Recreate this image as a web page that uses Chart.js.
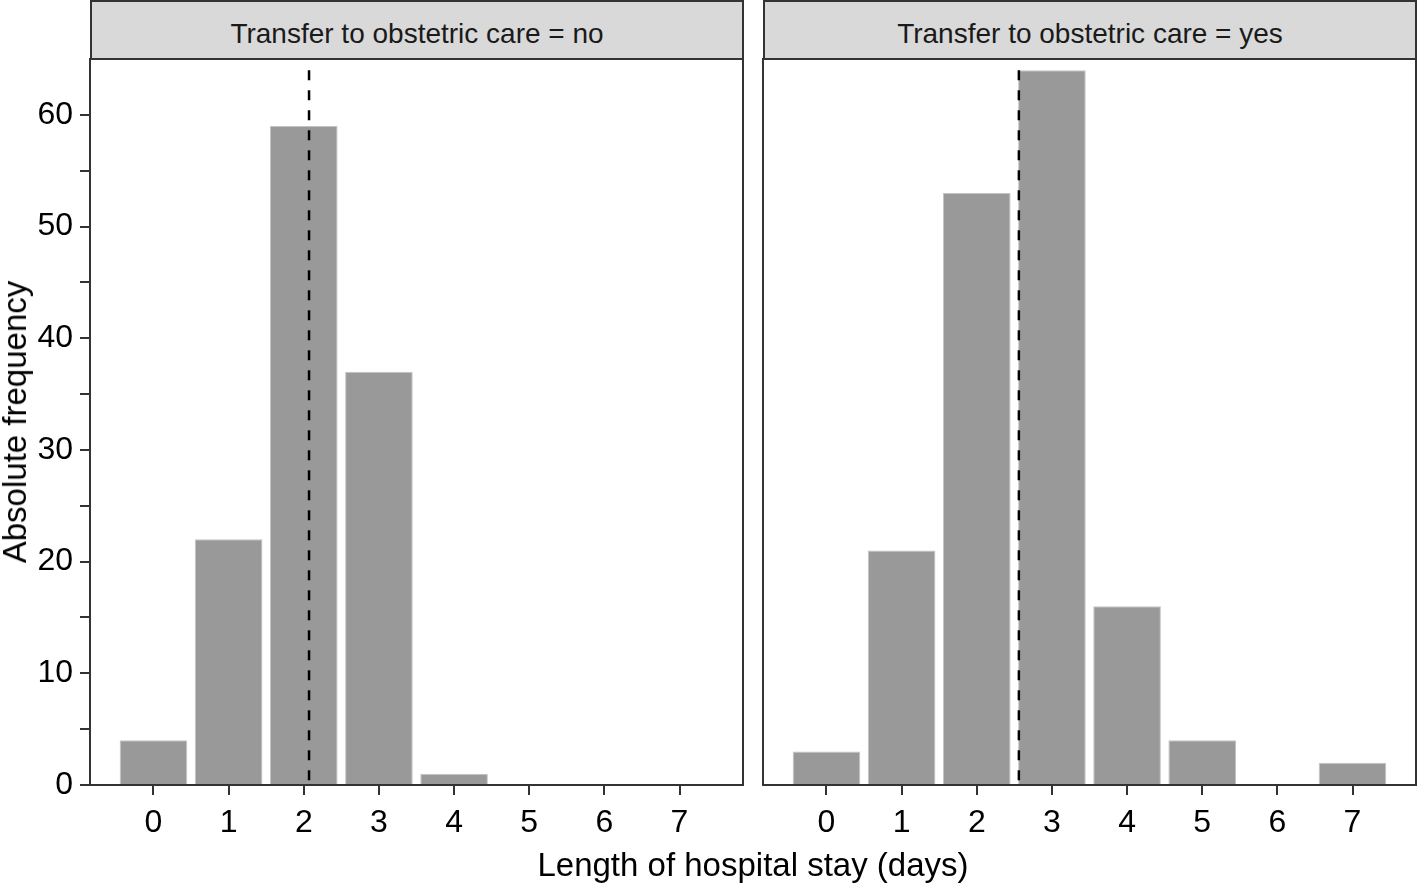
<!DOCTYPE html>
<html>
<head>
<meta charset="utf-8">
<script src="https://cdn.jsdelivr.net/npm/chart.js@4"></script>
<style>
  body { margin: 0; background: #fff; font-family: "Liberation Sans", Arial, sans-serif; }
  #wrap { position: relative; width: 1423px; height: 884px; overflow: hidden; }
  canvas { position: absolute; top: 0; }
  .strip {
    position: absolute; top: 0; height: 60px; box-sizing: border-box;
    background: #d9d9d9; border: 2px solid #333;
    text-align: center; line-height: 64px; font-size: 28px; color: #1a1a1a;
  }
  .xtitle { position: absolute; left: 0; width: 1506px; top: 846px; text-align: center; font-size: 33px; color: #000; }
  .ytitle {
    position: absolute; left: 15px; top: 422px; font-size: 33px; color: #000;
    transform: translate(-50%, -50%) rotate(-90deg); white-space: nowrap;
  }
</style>
</head>
<body>
<div id="wrap">
  <canvas id="panelNo" width="750" height="884" style="left:0"></canvas>
  <canvas id="panelYes" width="670" height="884" style="left:753px"></canvas>
  <div class="strip" style="left:90px;width:654px">Transfer to obstetric care = no</div>
  <div class="strip" style="left:763px;width:654px">Transfer to obstetric care = yes</div>
  <div class="xtitle">Length of hospital stay (days)</div>
  <div class="ytitle">Absolute frequency</div>
</div>
<script>
// length of stay in days
const days = [0, 1, 2, 3, 4, 5, 6, 7];
const countsNo = [4, 22, 59, 37, 1, 0, 0, 0];
const countsYes = [3, 21, 53, 64, 16, 4, 0, 2];

// mean length of stay (dashed line) per panel
const meanNo = 2.07;
const meanYes = 2.56;
const meanLineTop = 64;

const yTicks = [0, 5, 10, 15, 20, 25, 30, 35, 40, 45, 50, 55, 60];
const xTicks = [0, 1, 2, 3, 4, 5, 6, 7];

const frame = {
  id: 'frame',
  afterDraw(chart) {
    const a = chart.chartArea;
    const c = chart.ctx;
    c.save();
    c.strokeStyle = '#333';
    c.lineWidth = 2;
    c.strokeRect(a.left, a.top, a.right - a.left, a.bottom - a.top);
    c.restore();
  }
};

function makePanel(id, counts, mean, showY, pad) {
  const ctx = document.getElementById(id).getContext('2d');
  return new Chart(ctx, {
    type: 'bar',
    data: {
      datasets: [
        {
          type: 'line',
          data: [{ x: mean, y: meanLineTop }, { x: mean, y: 0 }],
          borderColor: '#000',
          borderWidth: 2.5,
          borderDash: [10, 10],
          pointRadius: 0,
          order: 0
        },
        {
          data: days.map((d, i) => ({ x: d, y: counts[i] })),
          backgroundColor: '#999999',
          borderColor: '#c4c4c4',
          borderWidth: c => (c.raw && c.raw.y > 0 ? 1 : 0),
          borderSkipped: 'bottom',
          categoryPercentage: 1,
          barPercentage: 0.9,
          order: 1
        }
      ]
    },
    options: {
      responsive: false,
      animation: false,
      devicePixelRatio: 1,
      layout: { padding: pad },
      plugins: { legend: { display: false }, tooltip: { enabled: false } },
      scales: {
        x: {
          type: 'linear',
          min: -0.845,
          max: 7.845,
          offset: false,
          afterBuildTicks: s => { s.ticks = xTicks.map(v => ({ value: v })); },
          afterFit: s => { s.height = 99; },
          grid: { drawOnChartArea: false, drawTicks: true, tickLength: 10, color: '#333', lineWidth: 2, offset: false },
          border: { display: false },
          ticks: { color: '#000', font: { size: 32, family: 'Liberation Sans' }, padding: 9, autoSkip: false, maxRotation: 0 }
        },
        y: {
          display: showY,
          min: 0,
          max: 65,
          afterBuildTicks: s => { s.ticks = yTicks.map(v => ({ value: v })); },
          afterFit: s => { if (showY) s.width = 90; },
          grid: { drawOnChartArea: false, drawTicks: true, tickLength: 10, color: '#333', lineWidth: 2 },
          border: { display: false },
          ticks: {
            color: '#000',
            font: { size: 32, family: 'Liberation Sans' },
            padding: 7,
            autoSkip: false,
            callback: v => (v % 10 === 0 ? v : '')
          }
        }
      }
    },
    plugins: [frame]
  });
}

makePanel('panelNo', countsNo, meanNo, true, { top: 59, right: 7, left: 0, bottom: 0 });
makePanel('panelYes', countsYes, meanYes, false, { top: 59, right: 7, left: 10, bottom: 0 });
</script>
</body>
</html>
